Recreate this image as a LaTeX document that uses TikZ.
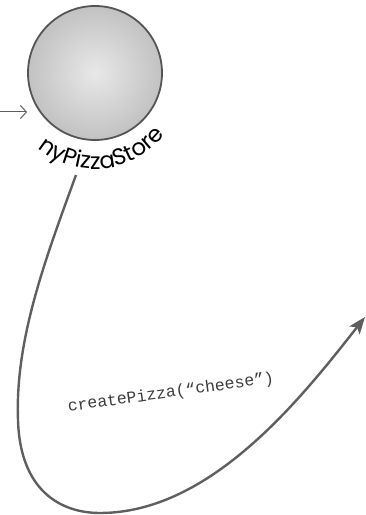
\documentclass[tikz,border=0pt]{standalone}
\usepackage{fontspec}
\usepackage{tikz}
\usetikzlibrary{arrows.meta, positioning, decorations.text, calc}
\newfontfamily\handfont{Poppins}
\newfontfamily\codefont{Liberation Mono}
\definecolor{storegray}{RGB}{95, 95, 95}
\definecolor{rimgray}{RGB}{85, 85, 85}
\definecolor{codegray}{RGB}{60, 60, 60}

\begin{document}
\begin{tikzpicture}[x=1pt, y=1pt,
    storeball/.style={circle, minimum size=134pt, inner sep=0pt, shade,
      inner color=gray!18, outer color=gray!48, draw=rimgray, line width=1.8pt},
    callline/.style={draw=storegray, line width=2.4pt,
      -{Stealth[length=17pt, width=13pt, inset=4pt]}},
    inline/.style={draw=storegray, line width=1pt,
      -{Straight Barb[length=6pt, width=13pt]}}]
  \useasboundingbox (0,0) rectangle (366,515);
  % the pizza store object
  \node[storeball] (store) at (95,442) {};
  \coordinate (in) at (0,403);
  \draw[inline] (in) -- (in -| store.west);
  % its name, bent round the ball
  \coordinate (namecentre) at ($(store.center)+(0,-8)$);
  \path[decorate, decoration={text along path, text align=center,
      text={|\handfont\fontsize{23pt}{23pt}\selectfont|nyPizzaStore}}]
    ($(namecentre)+(220:88)$) arc[start angle=220, end angle=332, radius=88pt];
  % the call going out
  \coordinate (callstart) at (76,340);
  \coordinate (calltip) at (365,198);
  \draw[callline] (callstart) .. controls (45,255) and (15,175) .. (18,95)
    .. controls (20,25) and (60,2) .. (100,2)
    .. controls (210,2) and (300,115) .. (calltip);
  \node[rotate=8, text=codegray, font=\codefont\fontsize{16.5pt}{16.5pt}\selectfont]
    (call) at (171,122) {createPizza(“cheese”)};
\end{tikzpicture}
\end{document}
